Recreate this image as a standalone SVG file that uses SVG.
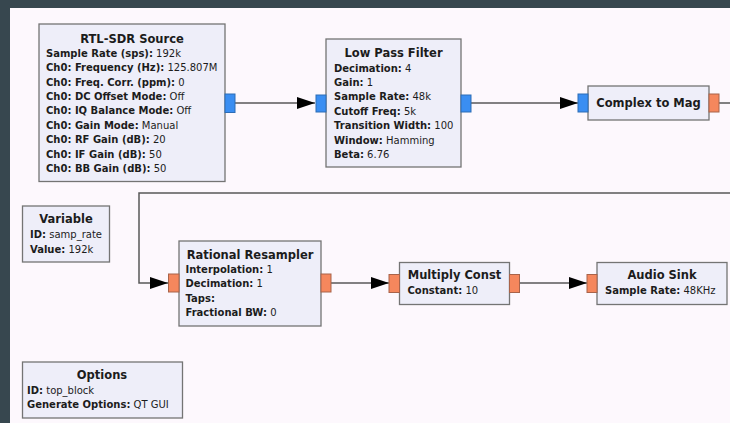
<svg xmlns="http://www.w3.org/2000/svg" width="730" height="423" viewBox="0 0 730 423">
<style>
.blk{fill:#eeeef9;stroke:#747474;stroke-width:1.3}
.pin{fill:#3a8ef2;stroke:#2d6cb5;stroke-width:1}
.pout{fill:#f5875d;stroke:#a8634a;stroke-width:1}
.t{font-family:"DejaVu Sans",sans-serif;font-weight:bold;font-size:11.5px;fill:#1c1c1c;text-anchor:middle}
.p{font-family:"DejaVu Sans",sans-serif;font-size:10px;fill:#1c1c1c}
.p tspan.b{font-weight:bold}
.w{fill:none;stroke:#585858;stroke-width:1.5}
</style>
<defs>
<marker id="ah" markerUnits="userSpaceOnUse" markerWidth="19" markerHeight="13" refX="18" refY="6.5" orient="auto" overflow="visible">
<path d="M0,0.5 L18,6.5 L0,12.5 z" fill="#000"/>
</marker>
</defs>
<rect x="0" y="0" width="730" height="423" fill="#37474f"/>
<rect x="10" y="8" width="720" height="415" fill="#fdf8fd"/>

<g id="connectors">
<path class="w" d="M235,103 H315" marker-end="url(#ah)"/>
<path class="w" d="M471,103 H578" marker-end="url(#ah)"/>
<path class="w" d="M719,103 H745 V193 H139 V283 H168" marker-end="url(#ah)"/>
<path class="w" d="M331,283 H389" marker-end="url(#ah)"/>
<path class="w" d="M519,283 H587" marker-end="url(#ah)"/>
</g>

<g id="rtl_sdr_source">
<rect class="blk" x="39" y="24" width="186" height="157.5"/>
<rect class="pin" x="225" y="94" width="10" height="18.5"/>
<text class="t" x="132" y="42.5">RTL-SDR Source</text>
<text class="p" x="46" y="56.7"><tspan class="b">Sample Rate (sps):</tspan> 192k</text>
<text class="p" x="46" y="71.1"><tspan class="b">Ch0: Frequency (Hz):</tspan> 125.807M</text>
<text class="p" x="46" y="85.5"><tspan class="b">Ch0: Freq. Corr. (ppm):</tspan> 0</text>
<text class="p" x="46" y="99.9"><tspan class="b">Ch0: DC Offset Mode:</tspan> Off</text>
<text class="p" x="46" y="114.3"><tspan class="b">Ch0: IQ Balance Mode:</tspan> Off</text>
<text class="p" x="46" y="128.7"><tspan class="b">Ch0: Gain Mode:</tspan> Manual</text>
<text class="p" x="46" y="143.1"><tspan class="b">Ch0: RF Gain (dB):</tspan> 20</text>
<text class="p" x="46" y="157.5"><tspan class="b">Ch0: IF Gain (dB):</tspan> 50</text>
<text class="p" x="46" y="171.9"><tspan class="b">Ch0: BB Gain (dB):</tspan> 50</text>
</g>

<g id="low_pass_filter">
<rect class="blk" x="326" y="39" width="135" height="128"/>
<rect class="pin" x="316" y="95" width="10" height="17"/>
<rect class="pin" x="461" y="95" width="10" height="17"/>
<text class="t" x="393.5" y="56.7">Low Pass Filter</text>
<text class="p" x="334" y="71.5"><tspan class="b">Decimation:</tspan> 4</text>
<text class="p" x="334" y="85.9"><tspan class="b">Gain:</tspan> 1</text>
<text class="p" x="334" y="100.3"><tspan class="b">Sample Rate:</tspan> 48k</text>
<text class="p" x="334" y="114.7"><tspan class="b">Cutoff Freq:</tspan> 5k</text>
<text class="p" x="334" y="129.1"><tspan class="b">Transition Width:</tspan> 100</text>
<text class="p" x="334" y="143.5"><tspan class="b">Window:</tspan> Hamming</text>
<text class="p" x="334" y="157.9"><tspan class="b">Beta:</tspan> 6.76</text>
</g>

<g id="complex_to_mag">
<rect class="blk" x="588" y="86" width="121" height="34"/>
<rect class="pin" x="578" y="94" width="10" height="18"/>
<rect class="pout" x="709" y="94" width="10" height="18"/>
<text class="t" x="648.5" y="106.6">Complex to Mag</text>
</g>

<g id="variable">
<rect class="blk" x="22.5" y="206" width="87" height="56"/>
<text class="t" x="66" y="223.3">Variable</text>
<text class="p" x="30" y="238.3"><tspan class="b">ID:</tspan> samp_rate</text>
<text class="p" x="30" y="252.7"><tspan class="b">Value:</tspan> 192k</text>
</g>

<g id="rational_resampler">
<rect class="blk" x="179" y="241" width="142" height="85"/>
<rect class="pout" x="168.5" y="274" width="10.5" height="18"/>
<rect class="pout" x="321" y="274" width="10" height="18"/>
<text class="t" x="250" y="259">Rational Resampler</text>
<text class="p" x="185.5" y="272.7"><tspan class="b">Interpolation:</tspan> 1</text>
<text class="p" x="185.5" y="287.2"><tspan class="b">Decimation:</tspan> 1</text>
<text class="p" x="185.5" y="301.6"><tspan class="b">Taps:</tspan></text>
<text class="p" x="185.5" y="316"><tspan class="b">Fractional BW:</tspan> 0</text>
</g>

<g id="multiply_const">
<rect class="blk" x="399.5" y="262.5" width="110" height="42"/>
<rect class="pout" x="389" y="274.5" width="10.5" height="18"/>
<rect class="pout" x="509.5" y="274.5" width="10" height="18"/>
<text class="t" x="454.5" y="279">Multiply Const</text>
<text class="p" x="407.5" y="294.3"><tspan class="b">Constant:</tspan> 10</text>
</g>

<g id="audio_sink">
<rect class="blk" x="597" y="262.5" width="130" height="42"/>
<rect class="pout" x="587" y="274.5" width="10" height="18"/>
<text class="t" x="662" y="279">Audio Sink</text>
<text class="p" x="605" y="294.3"><tspan class="b">Sample Rate:</tspan> 48KHz</text>
</g>

<g id="options">
<rect class="blk" x="22.5" y="362" width="160" height="56"/>
<text class="t" x="102" y="378.5">Options</text>
<text class="p" x="27" y="394"><tspan class="b">ID:</tspan> top_block</text>
<text class="p" x="27" y="408.3"><tspan class="b">Generate Options:</tspan> QT GUI</text>
</g>
</svg>
